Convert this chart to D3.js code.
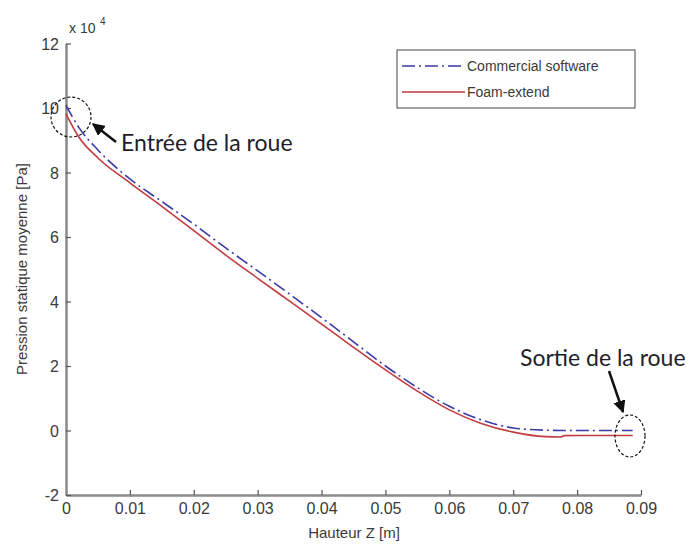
<!DOCTYPE html>
<html>
<head>
<meta charset="utf-8">
<script src="https://cdn.jsdelivr.net/npm/d3@7"></script>
<style>
  body { margin: 0; background: #fff; }
  svg { display: block; }
</style>
</head>
<body>
<svg id="chart"></svg>
<script>
// data (pressure in units of 1e4 Pa)
var hauteur = [0, 0.002, 0.005, 0.01, 0.015, 0.02, 0.025, 0.03, 0.035, 0.04, 0.045, 0.05, 0.055, 0.06, 0.065, 0.07, 0.075, 0.0775, 0.078, 0.08, 0.085, 0.0887];
var commercial = [10.08, 9.4, 8.7, 7.8, 7.1, 6.4, 5.66, 4.95, 4.23, 3.5, 2.75, 2.0, 1.33, 0.75, 0.33, 0.08, 0.01, 0.0, 0.0, 0.0, 0.0, 0.0];
var foam = [9.82, 9.1, 8.45, 7.68, 6.95, 6.2, 5.44, 4.72, 4.01, 3.3, 2.58, 1.88, 1.22, 0.64, 0.22, -0.05, -0.19, -0.2, -0.16, -0.155, -0.155, -0.155];
var seriesNames = ["Commercial software", "Foam-extend"];
var xTicks = [0, 0.01, 0.02, 0.03, 0.04, 0.05, 0.06, 0.07, 0.08, 0.09];
var yTicks = [-2, 0, 2, 4, 6, 8, 10, 12];

var width = 692, height = 545;
var svg = d3.select("#chart").attr("width", width).attr("height", height);

var x = d3.scaleLinear().domain([0, 0.09]).range([66, 641]);
var y = d3.scaleLinear().domain([-2, 12]).range([495, 43.5]);

var axisColor = "#8a8a8a";
var textColor = "#3a3a3a";
var font = "'Liberation Sans', Arial, sans-serif";

// x axis
var gx = svg.append("g")
	.attr("transform", "translate(0," + y(-2) + ")")
	.call(d3.axisBottom(x).tickValues(xTicks).tickFormat(function(d) { return String(d); })
		.tickSizeInner(-5).tickSizeOuter(0).tickPadding(8));

// y axis
var gy = svg.append("g")
	.attr("transform", "translate(" + x(0) + ",0)")
	.call(d3.axisLeft(y).tickValues(yTicks).tickFormat(function(d) { return String(d); })
		.tickSizeInner(-5).tickSizeOuter(0).tickPadding(7));

[gx, gy].forEach(function(g) {
	g.select(".domain").style("stroke", axisColor).style("stroke-width", "2.5px");
	g.selectAll(".tick line").style("stroke", "#555").style("stroke-width", "1.2px");
	g.selectAll(".tick text").style("fill", textColor).style("font-family", font).style("font-size", "16px");
});
gy.selectAll(".tick text").attr("dy", "0.35em");

// exponent label
svg.append("text")
	.attr("x", 69).attr("y", 33)
	.attr("fill", textColor).style("font-family", font).style("font-size", "14px")
	.text("x 10");
svg.append("text")
	.attr("x", 100).attr("y", 25)
	.attr("fill", textColor).style("font-family", font).style("font-size", "10px")
	.text("4");

// axis titles
svg.append("text")
	.attr("x", 354).attr("y", 538)
	.attr("text-anchor", "middle")
	.attr("fill", textColor).style("font-family", font).style("font-size", "15px")
	.text("Hauteur Z [m]");

svg.append("text")
	.attr("transform", "translate(27,269)rotate(-90)")
	.attr("text-anchor", "middle")
	.attr("fill", textColor).style("font-family", font).style("font-size", "15px")
	.text("Pression statique moyenne [Pa]");

// lines
var lineC = d3.line()
	.x(function(d, i) { return x(hauteur[i]); })
	.y(function(d) { return y(d); })
	.curve(d3.curveMonotoneX);

svg.append("path")
	.datum(foam)
	.attr("d", lineC)
	.attr("fill", "none")
	.attr("stroke", "#c23b3e")
	.attr("stroke-width", 1.6);

svg.append("path")
	.datum(commercial)
	.attr("d", lineC)
	.attr("fill", "none")
	.attr("stroke", "#3a3aa8")
	.attr("stroke-width", 1.6)
	.attr("stroke-dasharray", "13,4,2,4");

// legend
var legend = svg.append("g");
legend.append("rect")
	.attr("x", 397).attr("y", 50).attr("width", 238).attr("height", 58)
	.attr("fill", "#fff").attr("stroke", "#444").attr("stroke-width", 1);
legend.append("line")
	.attr("x1", 402).attr("x2", 465).attr("y1", 66).attr("y2", 66)
	.attr("stroke", "#3a3aa8").attr("stroke-width", 1.6).attr("stroke-dasharray", "13,4,2,4");
legend.append("line")
	.attr("x1", 402).attr("x2", 465).attr("y1", 92).attr("y2", 92)
	.attr("stroke", "#c23b3e").attr("stroke-width", 1.6);
legend.selectAll("text.lbl")
	.data(seriesNames)
	.enter()
	.append("text")
	.attr("class", "lbl")
	.attr("x", 467)
	.attr("y", function(d, i) { return 66 + i * 26; })
	.attr("dy", "0.35em")
	.attr("fill", textColor).style("font-family", font).style("font-size", "14px")
	.text(function(d) { return d; });

// annotations
var annFont = "Lato, 'Open Sans', sans-serif";
svg.append("ellipse")
	.attr("cx", 71).attr("cy", 117).attr("rx", 20).attr("ry", 20)
	.attr("fill", "none").attr("stroke", "#111").attr("stroke-width", 1.2).attr("stroke-dasharray", "3,2");
svg.append("ellipse")
	.attr("cx", 630).attr("cy", 436).attr("rx", 15).attr("ry", 21)
	.attr("fill", "none").attr("stroke", "#111").attr("stroke-width", 1.2).attr("stroke-dasharray", "3,2");

svg.append("defs").append("marker")
	.attr("id", "arrow")
	.attr("viewBox", "0 0 10 10")
	.attr("refX", 9).attr("refY", 5)
	.attr("markerWidth", 5).attr("markerHeight", 5)
	.attr("orient", "auto")
	.append("path").attr("d", "M0,0L10,5L0,10z").attr("fill", "#111");

svg.append("line")
	.attr("x1", 116).attr("y1", 142).attr("x2", 93).attr("y2", 124)
	.attr("stroke", "#111").attr("stroke-width", 2.5).attr("marker-end", "url(#arrow)");
svg.append("line")
	.attr("x1", 609).attr("y1", 371).attr("x2", 623).attr("y2", 412)
	.attr("stroke", "#111").attr("stroke-width", 2.5).attr("marker-end", "url(#arrow)");

svg.append("text")
	.attr("x", 121).attr("y", 151)
	.attr("fill", "#1e1e2a").style("font-family", annFont).style("font-size", "23px")
	.text("Entrée de la roue");
svg.append("text")
	.attr("x", 520).attr("y", 366)
	.attr("fill", "#1e1e2a").style("font-family", annFont).style("font-size", "23px")
	.text("Sortie de la roue");
</script>
</body>
</html>
